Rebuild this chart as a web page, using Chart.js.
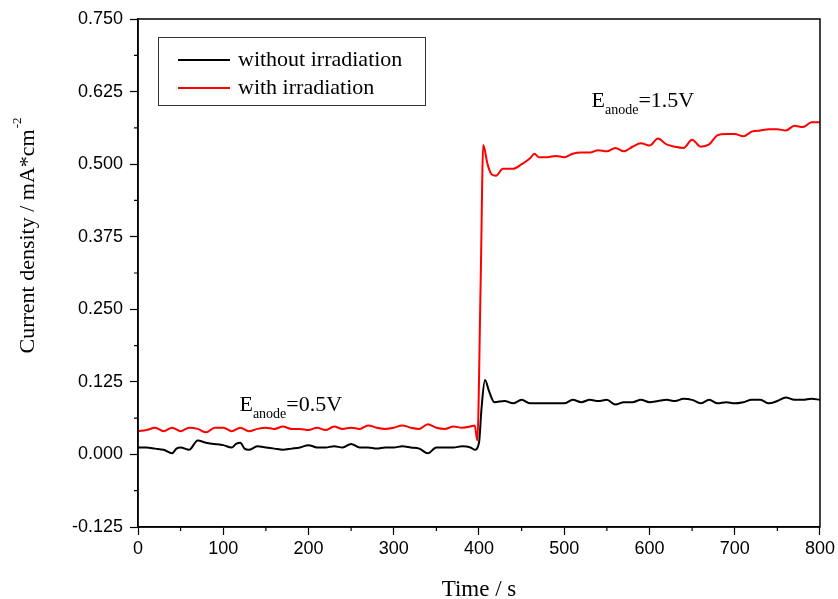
<!DOCTYPE html>
<html>
<head>
<meta charset="utf-8">
<script src="https://cdn.jsdelivr.net/npm/chart.js@4/dist/chart.umd.min.js"></script>
<style>
  html, body { margin: 0; padding: 0; background: #fff; }
  canvas { display: block; }
</style>
</head>
<body>
<canvas id="grafico" width="838" height="599"></canvas>
<script>
// dados
const seriesNames = ['without irradiation', 'with irradiation'];
const seriesColors = ['#000000', '#ff0000'];

const tDark = [0, 10, 20, 30, 40, 45, 50, 60, 70, 80, 90, 100, 110, 115, 120, 125, 130, 140, 150, 160,
  170, 180, 190, 200, 210, 220, 230, 240, 250, 260, 270, 280, 290, 300, 310, 320, 330, 340, 350, 360,
  370, 380, 390, 395, 400, 403, 407, 412, 418, 430, 440, 450, 460, 480, 500, 510, 520, 530, 540, 550,
  560, 570, 580, 590, 600, 610, 620, 630, 640, 650, 660, 670, 680, 690, 700, 710, 720, 730, 740, 750,
  760, 770, 780, 790, 800];
const jDark = [0.012, 0.012, 0.010, 0.008, 0.002, 0.010, 0.012, 0.008, 0.024, 0.020, 0.018, 0.016, 0.012, 0.018, 0.020, 0.010, 0.008, 0.014, 0.012, 0.010,
  0.008, 0.010, 0.012, 0.016, 0.012, 0.012, 0.014, 0.012, 0.018, 0.012, 0.012, 0.010, 0.012, 0.012, 0.014, 0.012, 0.010, 0.002, 0.012, 0.012,
  0.012, 0.014, 0.012, 0.008, 0.020, 0.080, 0.128, 0.108, 0.090, 0.092, 0.088, 0.094, 0.088, 0.088, 0.088, 0.094, 0.090, 0.094, 0.092, 0.094,
  0.086, 0.090, 0.090, 0.094, 0.090, 0.092, 0.094, 0.092, 0.096, 0.094, 0.088, 0.094, 0.088, 0.090, 0.088, 0.090, 0.094, 0.094, 0.088, 0.092,
  0.098, 0.094, 0.094, 0.096, 0.094];

const tLight = [0, 10, 20, 30, 40, 50, 60, 70, 80, 90, 100, 110, 120, 130, 140, 150, 160, 170, 180, 190,
  200, 210, 220, 230, 240, 250, 260, 270, 280, 290, 300, 310, 320, 330, 340, 350, 360, 370, 380, 390,
  395, 398, 402, 405, 410, 415, 420, 428, 440, 450, 460, 465, 470, 480, 490, 500, 510, 520, 530, 540,
  550, 560, 570, 580, 590, 600, 610, 620, 630, 640, 650, 660, 670, 680, 690, 700, 710, 720, 730, 740,
  750, 760, 770, 780, 790, 800];
const jLight = [0.040, 0.042, 0.046, 0.040, 0.046, 0.040, 0.046, 0.044, 0.038, 0.046, 0.046, 0.040, 0.046, 0.040, 0.044, 0.046, 0.044, 0.048, 0.044, 0.044,
  0.042, 0.046, 0.042, 0.048, 0.044, 0.046, 0.044, 0.050, 0.046, 0.044, 0.046, 0.050, 0.046, 0.044, 0.052, 0.046, 0.044, 0.048, 0.046, 0.048,
  0.050, 0.024, 0.300, 0.533, 0.500, 0.482, 0.480, 0.492, 0.492, 0.500, 0.510, 0.518, 0.512, 0.512, 0.514, 0.512, 0.518, 0.520, 0.520, 0.524,
  0.522, 0.528, 0.522, 0.530, 0.536, 0.532, 0.544, 0.534, 0.530, 0.528, 0.542, 0.530, 0.534, 0.550, 0.552, 0.552, 0.548, 0.556, 0.558, 0.560,
  0.560, 0.558, 0.566, 0.564, 0.572, 0.572];

// anotações: [texto, subscrito, resto, x, y]
const notes = [
  ['E', 'anode', '=0.5V', 119, 0.074],
  ['E', 'anode', '=1.5V', 532, 0.598]
];

const serif = '"Liberation Serif", "Times New Roman", serif';
const sans = '"Liberation Sans", Arial, sans-serif';

function pares(xs, ys) {
  return xs.map((x, i) => ({ x: x, y: ys[i] }));
}

// moldura, ticks menores, legenda, anotações e título do eixo y
const extras = {
  id: 'extras',
  afterDraw(chart) {
    const ctx = chart.ctx;
    const a = chart.chartArea;
    const sx = chart.scales.x;
    const sy = chart.scales.y;
    ctx.save();
    ctx.strokeStyle = '#000';
    ctx.lineWidth = 1.5;
    ctx.strokeRect(a.left, a.top, a.right - a.left, a.bottom - a.top);

    // ticks menores
    ctx.lineWidth = 1.2;
    ctx.beginPath();
    for (let v = 50; v < 800; v += 100) {
      const px = sx.getPixelForValue(v);
      ctx.moveTo(px, a.bottom);
      ctx.lineTo(px, a.bottom + 4);
    }
    for (let v = -0.0625; v < 0.75; v += 0.125) {
      const py = sy.getPixelForValue(v);
      ctx.moveTo(a.left, py);
      ctx.lineTo(a.left - 4, py);
    }
    ctx.stroke();

    // legenda
    ctx.lineWidth = 1;
    ctx.strokeStyle = '#333';
    ctx.strokeRect(158.5, 37.5, 267, 68);
    ctx.font = '22px ' + serif;
    ctx.textBaseline = 'middle';
    chart.data.datasets.forEach((ds, i) => {
      const yy = 60 + i * 28;
      ctx.strokeStyle = ds.borderColor;
      ctx.lineWidth = 2;
      ctx.beginPath();
      ctx.moveTo(178, yy);
      ctx.lineTo(230, yy);
      ctx.stroke();
      ctx.fillStyle = '#000';
      ctx.fillText(ds.label, 238, yy);
    });

    // anotações
    ctx.textBaseline = 'alphabetic';
    ctx.fillStyle = '#000';
    notes.forEach(n => {
      let px = sx.getPixelForValue(n[3]);
      const py = sy.getPixelForValue(n[4]);
      ctx.font = '22px ' + serif;
      ctx.fillText(n[0], px, py);
      px += ctx.measureText(n[0]).width;
      ctx.font = '14px ' + serif;
      ctx.fillText(n[1], px, py + 7);
      px += ctx.measureText(n[1]).width;
      ctx.font = '22px ' + serif;
      ctx.fillText(n[2], px, py);
    });

    // título do eixo y
    ctx.translate(28, 236);
    ctx.rotate(-Math.PI / 2);
    ctx.font = '22px ' + serif;
    const t1 = 'Current density / mA*cm';
    const w1 = ctx.measureText(t1).width;
    ctx.font = '13px ' + serif;
    const w2 = ctx.measureText('-2').width;
    let x0 = -(w1 + w2) / 2;
    ctx.font = '22px ' + serif;
    ctx.textBaseline = 'middle';
    ctx.fillText(t1, x0, 0);
    ctx.font = '13px ' + serif;
    ctx.fillText('-2', x0 + w1 + 1, -10);
    ctx.restore();
  }
};

const ctxGrafico = document.getElementById('grafico').getContext('2d');
const grafico = new Chart(ctxGrafico, {
  type: 'line',
  data: {
    datasets: [{
      label: seriesNames[0],
      data: pares(tDark, jDark),
      borderColor: seriesColors[0],
      borderWidth: 2,
      pointRadius: 0,
      cubicInterpolationMode: 'monotone'
    }, {
      label: seriesNames[1],
      data: pares(tLight, jLight),
      borderColor: seriesColors[1],
      borderWidth: 2,
      pointRadius: 0,
      cubicInterpolationMode: 'monotone'
    }]
  },
  options: {
    responsive: false,
    animation: false,
    layout: { padding: { top: 19, right: 17, left: 0, bottom: 0 } },
    plugins: {
      legend: { display: false },
      tooltip: { enabled: false }
    },
    scales: {
      x: {
        type: 'linear',
        min: 0,
        max: 800,
        afterFit: s => { s.height = 72; },
        ticks: {
          stepSize: 100,
          color: '#000',
          font: { family: sans, size: 18 },
          padding: 3,
          maxRotation: 0
        },
        grid: { drawOnChartArea: false, drawTicks: true, tickLength: 8, color: '#000', tickWidth: 1.2 },
        border: { display: true, color: '#000', width: 1.5 },
        title: {
          display: true,
          text: 'Time / s',
          color: '#000',
          font: { family: serif, size: 23 },
          padding: { top: 14, bottom: -5 }
        }
      },
      y: {
        type: 'linear',
        min: -0.125,
        max: 0.75,
        afterFit: s => { s.width = 138; },
        ticks: {
          stepSize: 0.125,
          color: '#000',
          font: { family: sans, size: 18 },
          padding: 7,
          callback: v => v.toFixed(3)
        },
        grid: { drawOnChartArea: false, drawTicks: true, tickLength: 8, color: '#000', tickWidth: 1.2 },
        border: { display: true, color: '#000', width: 1.5 }
      }
    }
  },
  plugins: [extras]
});
</script>
</body>
</html>
